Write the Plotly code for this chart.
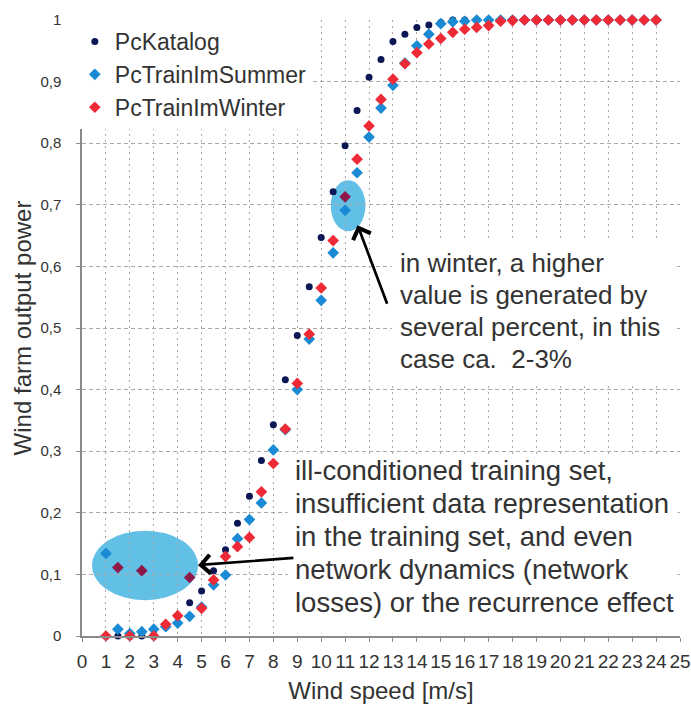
import plotly.graph_objects as go

# Wind speed grid [m/s] shared by all three power curves
wind_speed = [1, 1.5, 2, 2.5, 3, 3.5, 4, 4.5, 5, 5.5, 6, 6.5, 7, 7.5, 8, 8.5,
              9, 9.5, 10, 10.5, 11, 11.5, 12, 12.5, 13, 13.5, 14, 14.5, 15,
              15.5, 16, 16.5, 17, 17.5, 18, 18.5, 19, 19.5, 20, 20.5, 21,
              21.5, 22, 22.5, 23, 23.5, 24]

# Normalised wind farm output power
pc_katalog = [0.0, 0.0, 0.0, 0.0, 0.002, 0.015, 0.032, 0.054, 0.073, 0.106,
              0.140, 0.183, 0.227, 0.285, 0.343, 0.416, 0.488, 0.567, 0.647,
              0.721, 0.796, 0.853, 0.907, 0.936, 0.965, 0.977, 0.988, 0.992,
              0.996, 1.0, 1.0, 1.0, 1.0, 1.0, 1.0, 1.0, 1.0, 1.0, 1.0, 1.0,
              1.0, 1.0, 1.0, 1.0, 1.0, 1.0, 1.0]

pc_summer = [0.134, 0.011, 0.004, 0.007, 0.011, 0.015, 0.021, 0.032, 0.047,
             0.083, 0.099, 0.158, 0.189, 0.216, 0.302, 0.335, 0.400, 0.482,
             0.545, 0.622, 0.691, 0.752, 0.810, 0.857, 0.894, 0.930, 0.958,
             0.977, 0.994, 0.997, 0.998, 1.0, 1.0, 1.0, 1.0, 1.0, 1.0, 1.0,
             1.0, 1.0, 1.0, 1.0, 1.0, 1.0, 1.0, 1.0, 1.0]

pc_winter = [0.0, 0.111, 0.0, 0.106, 0.0, 0.019, 0.033, 0.095, 0.045, 0.091,
             0.129, 0.145, 0.160, 0.234, 0.280, 0.336, 0.410, 0.490, 0.565,
             0.642, 0.713, 0.774, 0.828, 0.871, 0.904, 0.929, 0.947, 0.961,
             0.970, 0.980, 0.985, 0.988, 0.991, 0.998, 0.999, 1.0, 1.0, 1.0,
             1.0, 1.0, 1.0, 1.0, 1.0, 1.0, 1.0, 1.0, 1.0]

# Winter points lying inside the highlighted regions
winter_highlighted = [1.5, 2.5, 4.5, 11]

x_ticks = list(range(0, 26))
x_tick_labels = [str(v) for v in x_ticks]
y_ticks = [0, 0.1, 0.2, 0.3, 0.4, 0.5, 0.6, 0.7, 0.8, 0.9, 1]
y_tick_labels = ["0", "0,1", "0,2", "0,3", "0,4", "0,5", "0,6", "0,7",
                 "0,8", "0,9", "1"]

winter_note = ["in winter, a higher", "value is generated by",
               "several percent, in this", "case ca.\u00a0 2-3%"]
training_note = ["ill-conditioned training set,",
                 "insufficient data representation",
                 "in the training set, and even",
                 "network dynamics (network",
                 "losses) or the recurrence effect"]

NAVY = "#0c1654"
BLUE = "#1a8ad4"
RED = "#ee2a36"
MAROON = "#8e1848"
HILITE = "#62c0e7"
TEXT = "#333333"
FONT = "Liberation Sans, Arial, sans-serif"
NARROW = "Liberation Sans Narrow, Arial Narrow, Liberation Sans, sans-serif"

winter_colors = [MAROON if v in winter_highlighted else RED for v in wind_speed]

fig = go.Figure()
fig.add_trace(go.Scatter(
    x=wind_speed, y=pc_katalog, mode="markers", name="PcKatalog",
    marker=dict(symbol="circle", size=7, color=NAVY), cliponaxis=False))
fig.add_trace(go.Scatter(
    x=wind_speed, y=pc_summer, mode="markers", name="PcTrainImSummer",
    marker=dict(symbol="diamond", size=9, color=BLUE), cliponaxis=False))
fig.add_trace(go.Scatter(
    x=wind_speed, y=pc_winter, mode="markers", name="PcTrainImWinter",
    marker=dict(symbol="diamond", size=9, color=winter_colors), cliponaxis=False))

# highlighted regions behind the markers
fig.add_shape(type="circle", xref="x", yref="y", x0=0.42, x1=4.85,
              y0=0.058, y1=0.171, fillcolor=HILITE, line_width=0, layer="below")
fig.add_shape(type="circle", xref="x", yref="y", x0=10.4, x1=11.85,
              y0=0.657, y1=0.740, fillcolor=HILITE, line_width=0, layer="below")

# white panels behind the comment texts
fig.add_shape(type="rect", xref="x", yref="y", x0=12.95, x1=24.85,
              y0=0.41, y1=0.643, fillcolor="white", line_width=0, layer="between")
fig.add_shape(type="rect", xref="x", yref="y", x0=8.6, x1=24.9,
              y0=0.004, y1=0.293, fillcolor="white", line_width=0, layer="between")


def add_note(lines, x, y_first, step, size):
    for i, line in enumerate(lines):
        fig.add_annotation(
            x=x, y=y_first - i * step, xref="x", yref="y",
            xanchor="left", yanchor="middle", align="left", showarrow=False,
            text=line, font=dict(family=FONT, size=size, color=TEXT))


add_note(winter_note, 13.2, 0.605, 0.052, 26)
add_note(training_note, 8.8, 0.269, 0.0535, 27.5)

# arrows pointing at the highlighted regions
fig.add_annotation(
    x=11.52, y=0.667, ax=12.78, ay=0.537, xref="x", yref="y", axref="x", ayref="y",
    text="", showarrow=True, arrowhead=4, arrowsize=1.35, arrowwidth=2.7,
    arrowcolor="black", standoff=0, startstandoff=0)
fig.add_annotation(
    x=4.85, y=0.115, ax=8.9, ay=0.127, xref="x", yref="y", axref="x", ayref="y",
    text="", showarrow=True, arrowhead=4, arrowsize=1.35, arrowwidth=2.7,
    arrowcolor="black", standoff=0, startstandoff=0)

fig.update_xaxes(
    range=[0, 25], tickmode="array", tickvals=x_ticks, ticktext=x_tick_labels,
    showline=True, linecolor="#8a8a8a", linewidth=1.5,
    ticks="outside", ticklen=4, tickcolor="#8a8a8a", tickwidth=1.2,
    showgrid=True, gridcolor="#a8a8a8", griddash="2px,4px", gridwidth=1.2,
    zeroline=False, ticklabelstandoff=3,
    tickfont=dict(family=NARROW, size=19, color=TEXT),
    title=dict(text="Wind speed [m/s]", standoff=12,
               font=dict(family=FONT, size=24, color=TEXT)))
fig.update_yaxes(
    range=[0, 1], tickmode="array", tickvals=y_ticks, ticktext=y_tick_labels,
    showline=True, linecolor="#8a8a8a", linewidth=1.5,
    ticks="outside", ticklen=4, tickcolor="#8a8a8a", tickwidth=1.2,
    showgrid=True, gridcolor="#a8a8a8", griddash="4px,3px", gridwidth=1.2,
    zeroline=False, ticklabelstandoff=12,
    tickfont=dict(family=FONT, size=15, color=TEXT),
    title=dict(text="Wind farm output power", standoff=2,
               font=dict(family=FONT, size=24, color=TEXT)))

fig.update_layout(
    width=691, height=707,
    margin=dict(l=82, r=11, t=20, b=71, autoexpand=False),
    paper_bgcolor="white", plot_bgcolor="white",
    showlegend=True,
    legend=dict(x=-0.012, y=1.0, xanchor="left", yanchor="top",
                bgcolor="white", borderwidth=0, itemwidth=30,
                font=dict(family=FONT, size=23, color=TEXT)),
)

fig.write_html("out.html")
